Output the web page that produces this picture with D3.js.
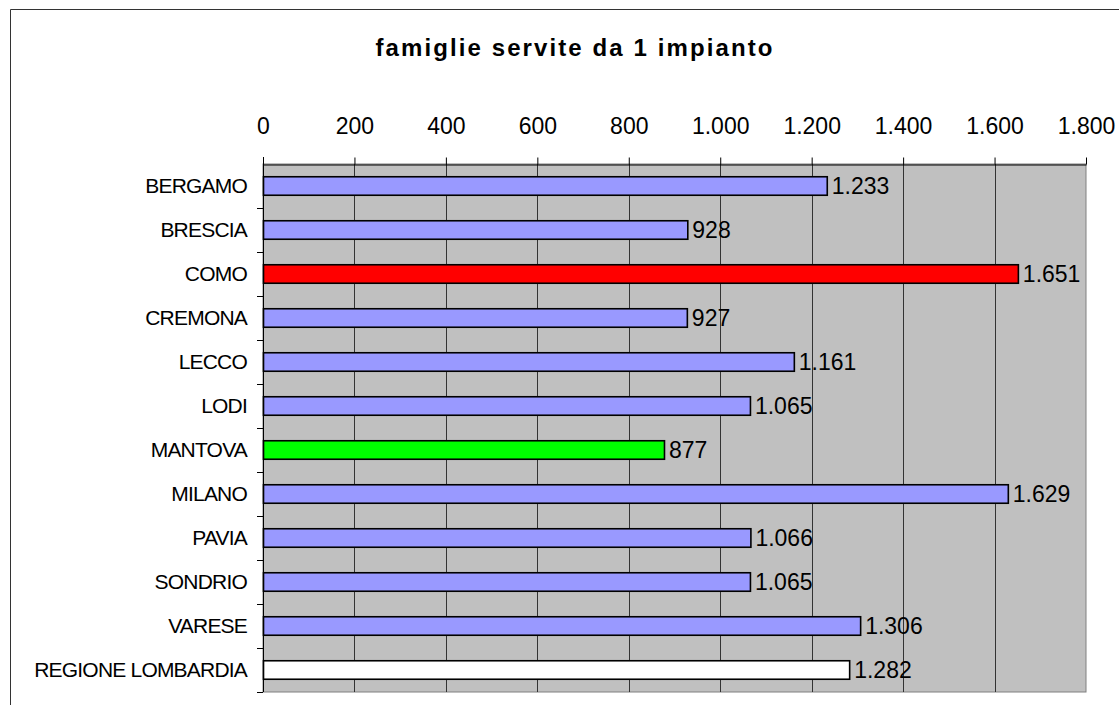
<!DOCTYPE html>
<html>
<head>
<meta charset="utf-8">
<script src="https://cdn.jsdelivr.net/npm/d3@7"></script>
<style>
  body { margin: 0; background: #fff; }
  svg { display: block; font-family: "Liberation Sans", Arial, sans-serif; }
</style>
</head>
<body>
<svg width="1119" height="705"></svg>
<script>
// chart data
const title = "famiglie servite da 1 impianto";
const provinces = ["BERGAMO", "BRESCIA", "COMO", "CREMONA", "LECCO", "LODI", "MANTOVA",
  "MILANO", "PAVIA", "SONDRIO", "VARESE", "REGIONE LOMBARDIA"];
const families = [1233, 928, 1651, 927, 1161, 1065, 877, 1629, 1066, 1065, 1306, 1282];
const barColors = ["#9999ff", "#9999ff", "#ff0000", "#9999ff", "#9999ff", "#9999ff", "#00ff00",
  "#9999ff", "#9999ff", "#9999ff", "#9999ff", "#ffffff"];
const tickValues = [0, 200, 400, 600, 800, 1000, 1200, 1400, 1600, 1800];

const svg = d3.select("svg");

// italian number format (dot as thousands separator)
const fmt = d3.formatLocale({ decimal: ",", thousands: ".", grouping: [3], currency: ["€", ""] }).format(",d");

const plotLeft = 263, plotRight = 1086, plotTop = 164, plotBottom = 692;

const x = d3.scaleLinear().domain([0, 1800]).range([plotLeft, plotRight]);
const y = d3.scaleBand().domain(provinces).range([plotTop, plotBottom]).paddingInner(0.58).paddingOuter(0.29);
const yBand = d3.scaleBand().domain(provinces).range([plotTop, plotBottom]);

// outer chart border (cropped at right and bottom)
svg.append("path")
  .attr("d", "M10.5,705 V9.5 H1119")
  .attr("fill", "none")
  .attr("stroke", "#333");

// title
svg.append("text")
  .attr("x", 575)
  .attr("y", 56)
  .attr("text-anchor", "middle")
  .attr("font-size", 24)
  .attr("font-weight", "bold")
  .attr("letter-spacing", 2.1)
  .text(title);

// plot background
svg.append("rect")
  .attr("x", plotLeft)
  .attr("y", plotTop)
  .attr("width", plotRight - plotLeft)
  .attr("height", plotBottom - plotTop)
  .attr("fill", "#c0c0c0")
  .attr("stroke", "#808080");

// vertical gridlines
svg.append("g")
  .selectAll("line")
  .data(tickValues.slice(1, -1))
  .join("line")
  .attr("x1", d => Math.round(x(d)) + 0.5)
  .attr("x2", d => Math.round(x(d)) + 0.5)
  .attr("y1", plotTop)
  .attr("y2", plotBottom)
  .attr("stroke", "#333");

// top axis
const xAxis = svg.append("g")
  .attr("transform", `translate(0,${plotTop + 0.5})`)
  .call(d3.axisTop(x).tickValues(tickValues).tickFormat(fmt).tickSize(7).tickPadding(24).tickSizeOuter(0));
xAxis.select(".domain").attr("stroke", "#000");
xAxis.selectAll(".tick line").attr("stroke", "#000");
xAxis.selectAll(".tick text")
  .attr("font-family", "Liberation Sans, Arial, sans-serif")
  .attr("font-size", 23)
  .attr("fill", "#000");

// left axis with ticks at category boundaries
svg.append("line")
  .attr("x1", plotLeft + 0.5).attr("x2", plotLeft + 0.5)
  .attr("y1", plotTop - 7).attr("y2", plotBottom)
  .attr("stroke", "#000");
svg.append("g")
  .selectAll("line")
  .data(provinces)
  .join("line")
  .attr("x1", plotLeft - 6)
  .attr("x2", plotLeft)
  .attr("y1", d => Math.round(yBand(d) + yBand.bandwidth()) + 0.5)
  .attr("y2", d => Math.round(yBand(d) + yBand.bandwidth()) + 0.5)
  .attr("stroke", "#000");

// category labels
svg.append("g")
  .selectAll("text")
  .data(provinces)
  .join("text")
  .attr("x", 247)
  .attr("y", d => yBand(d) + yBand.bandwidth() / 2 + 7)
  .attr("text-anchor", "end")
  .attr("font-size", 21)
  .attr("letter-spacing", -0.8)
  .text(d => d);

// bars
svg.append("g")
  .selectAll("rect")
  .data(families)
  .join("rect")
  .attr("x", x(0) + 0.5)
  .attr("y", (d, i) => y(provinces[i]))
  .attr("width", d => x(d) - x(0))
  .attr("height", y.bandwidth())
  .attr("fill", (d, i) => barColors[i])
  .attr("stroke", "#000")
  .attr("stroke-width", 1.6);

// value labels
svg.append("g")
  .selectAll("text")
  .data(families)
  .join("text")
  .attr("x", d => x(d) + 5)
  .attr("y", (d, i) => yBand(provinces[i]) + yBand.bandwidth() / 2 + 8)
  .attr("font-size", 23)
  .attr("fill", "#000")
  .text(d => fmt(d));
</script>
</body>
</html>
